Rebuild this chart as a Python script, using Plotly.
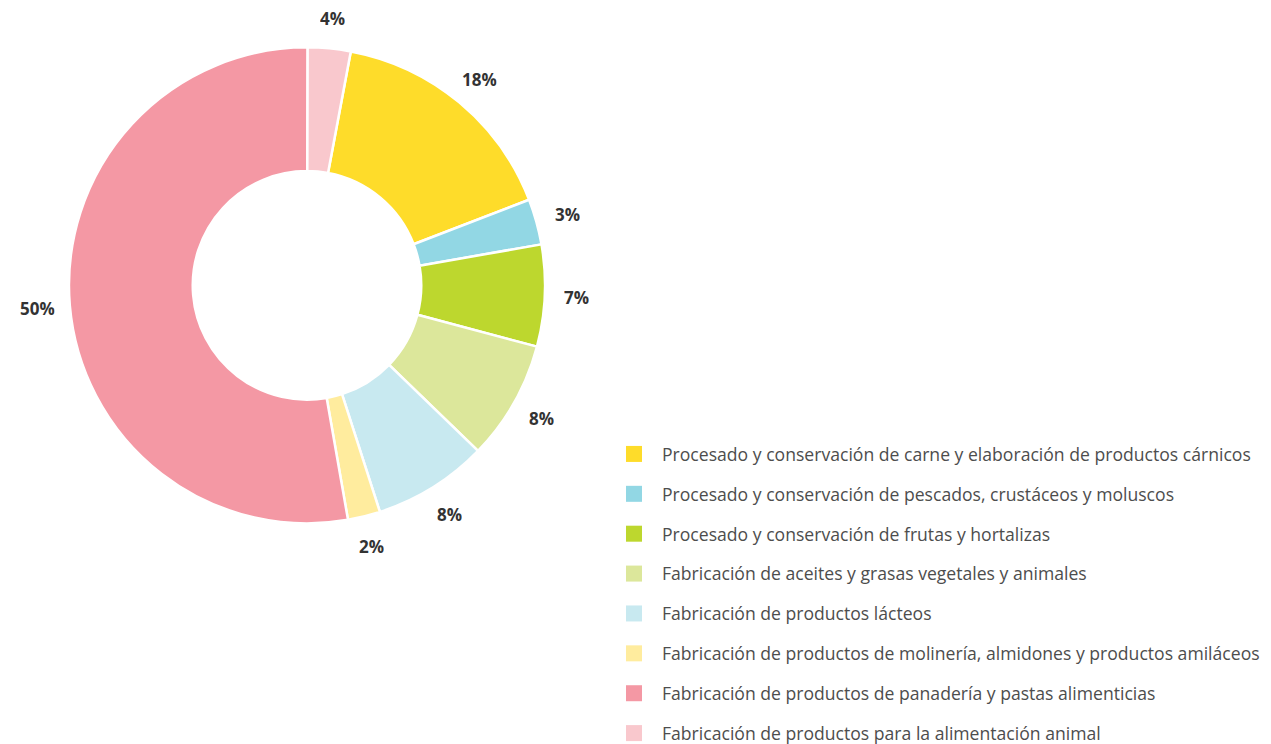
import math
import plotly.graph_objects as go

categories = [
    "Procesado y conservación de carne y elaboración de productos cárnicos",
    "Procesado y conservación de pescados, crustáceos y moluscos",
    "Procesado y conservación de frutas y hortalizas",
    "Fabricación de aceites y grasas vegetales y animales",
    "Fabricación de productos lácteos",
    "Fabricación de productos de molinería, almidones y productos amiláceos",
    "Fabricación de productos de panadería y pastas alimenticias",
    "Fabricación de productos para la alimentación animal",
]
values = [16.2, 3.1, 6.9, 8.1, 7.8, 2.2, 52.8, 2.9]
value_labels = ["18%", "3%", "7%", "8%", "8%", "2%", "50%", "4%"]
colors = ["#FEDC2A", "#92D7E4", "#BDD72E", "#DCE79B", "#C8E9F0", "#FFEC9E", "#F498A4", "#F9C8CD"]

# geometry (figure pixels; the page body adds an 8px offset)
W, H = 1271, 744
OFF = 8
cx, cy = 307 - OFF, 286.5 - OFF
R_pie = 239
R_lab = 270
ROT = 10.6

dom = dict(x=[(cx - R_pie) / W, (cx + R_pie) / W],
           y=[(H - cy - R_pie) / H, (H - cy + R_pie) / H])

fig = go.Figure()

fig.add_trace(go.Pie(
    labels=categories, values=values, sort=False, direction="clockwise",
    rotation=ROT, hole=0.48, domain=dom,
    marker=dict(colors=colors, line=dict(color="white", width=2.5)),
    textinfo="none", hoverinfo="label+percent", showlegend=False,
))

# value labels placed at the middle angle of each slice
total = sum(values)
cum = 0.0
for v, lab in zip(values, value_labels):
    ang = math.radians(ROT + 360.0 * (cum + v / 2.0) / total)
    cum += v
    px = cx + R_lab * math.sin(ang)
    py = cy - R_lab * math.cos(ang)
    fig.add_annotation(
        x=px / W, y=1 - py / H, xref="paper", yref="paper",
        text="<b>" + lab + "</b>", showarrow=False,
        xanchor="center", yanchor="middle", height=18, borderpad=0,
        font=dict(family="Open Sans, sans-serif", size=17, color="#333333"),
    )

# legend entries
for i, (cat, col) in enumerate(zip(categories, colors)):
    fig.add_trace(go.Scatter(
        x=[None], y=[None], mode="markers", name=cat,
        marker=dict(symbol="square", size=16, color=col),
        legendgroup=str(i), showlegend=True,
    ))

fig.update_layout(
    width=W, height=H,
    margin=dict(l=0, r=0, t=0, b=0),
    paper_bgcolor="white", plot_bgcolor="white",
    xaxis=dict(visible=False), yaxis=dict(visible=False),
    legend=dict(
        x=598 / W, y=1 - 430 / H, xanchor="left", yanchor="top",
        itemwidth=46,
        font=dict(family="Open Sans, sans-serif", size=17.6, color="#4D4D4D"),
        tracegroupgap=14, bgcolor="rgba(0,0,0,0)",
    ),
)

fig.write_html("out.html")
